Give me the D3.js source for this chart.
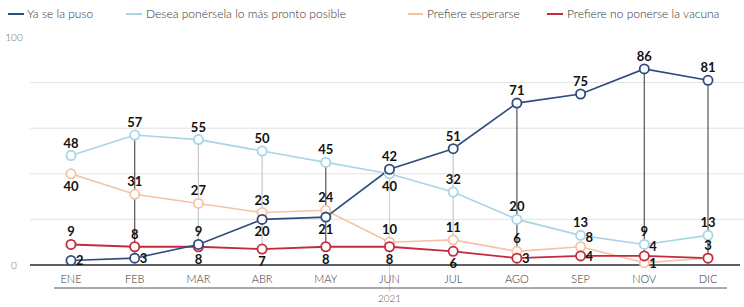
<!DOCTYPE html>
<html><head><meta charset="utf-8">
<script src="https://cdn.jsdelivr.net/npm/d3@7"></script>
<style>
body{margin:0;background:#fff;}
svg{display:block;}
.thin{font-family:Lato,"Open Sans",sans-serif;font-weight:300;}
.lab{font-family:Lato,"Open Sans",sans-serif;font-weight:700;font-size:13px;fill:#111;}
</style></head>
<body><svg id="c" width="744" height="307"></svg>
<script>
const categories = ["ENE","FEB","MAR","ABR","MAY","JUN","JUL","AGO","SEP","NOV","DIC"];
const yaSeLaPuso = [2,3,9,20,21,42,51,71,75,86,81];
const deseaPonersela = [48,57,55,50,45,40,32,20,13,9,13];
const prefiereEsperarse = [40,31,27,23,24,10,11,6,8,1,3];
const prefiereNoPonerse = [9,8,8,7,8,8,6,3,4,4,3];
const seriesNames = ["Ya se la puso","Desea ponérsela lo más pronto posible","Prefiere esperarse","Prefiere no ponerse la vacuna"];
const yTickLabels = [0,100];
const gridValues = [20,40,60,80];
const yearLabel = "2021";
// label placement per point: t=top, b=bottom, r=right, tr=top-right, br=bottom-right, n=none
const yaPos = ["r","r","t","b","b","t","t","t","t","t","t"];
const deseaPos = ["t","t","t","t","t","b","t","t","t","t","t"];
const esperarPos = ["b","t","t","t","t","t","t","t","tr","br","n"];
const noPos = ["t","t","b","b","b","b","b","r","r","tr","t"];
const dropDark = ["FEB","MAY","AGO","NOV","DIC"];
const dropLight = ["MAR","ABR","JUL"];
const dropLong = ["JUN"];

const colors = ["#2e4c7f","#a9d5e6","#f5c2a4","#c42a3e"];
const svg = d3.select("#c");
const x = d3.scalePoint().domain(categories).range([71,708]);
const y = d3.scaleLinear().domain([0,100]).range([265,37]);

// grid
svg.selectAll(".grid").data(gridValues).join("line")
  .attr("x1",30).attr("x2",744).attr("y1",d=>y(d)).attr("y2",d=>y(d))
  .attr("stroke","#e3e3e3").attr("stroke-width",1);

// y labels
svg.selectAll(".yl").data(yTickLabels).join("text").attr("class","thin")
  .attr("x",14).attr("y",d=>y(d)+4).attr("text-anchor","middle")
  .attr("font-size",10).attr("fill","#666").text(d=>d);

const all = [deseaPonersela,prefiereEsperarse,prefiereNoPonerse,yaSeLaPuso];
function maxAt(i){return d3.max(all,s=>s[i]);}
function minAt(i){return d3.min(all,s=>s[i]);}

// drop lines
dropLight.forEach(c=>{const i=categories.indexOf(c);
  svg.append("line").attr("x1",x(c)).attr("x2",x(c)).attr("y1",y(maxAt(i))).attr("y2",y(minAt(i)))
   .attr("stroke","#c8c8c8").attr("stroke-width",1.2);});
dropLong.forEach(c=>{const i=categories.indexOf(c);
  svg.append("line").attr("x1",x(c)).attr("x2",x(c)).attr("y1",y(maxAt(i))).attr("y2",292)
   .attr("stroke","#d5d5d5").attr("stroke-width",1.2);});
dropDark.forEach(c=>{const i=categories.indexOf(c);
  svg.append("line").attr("x1",x(c)).attr("x2",x(c)).attr("y1",y(maxAt(i))).attr("y2",y(minAt(i)))
   .attr("stroke","#555").attr("stroke-width",1.2);});

// baseline
svg.append("line").attr("x1",30).attr("x2",740).attr("y1",y(0)).attr("y2",y(0))
  .attr("stroke","#2a2a2a").attr("stroke-width",1.5);

// x labels
svg.selectAll(".xl").data(categories).join("text").attr("class","thin")
  .attr("x",d=>x(d)).attr("y",283).attr("text-anchor","middle")
  .attr("font-size",11).attr("fill","#333").text(d=>d);
svg.append("line").attr("x1",54).attr("x2",727).attr("y1",288).attr("y2",288)
  .attr("stroke","#555").attr("stroke-width",1);
svg.append("text").attr("class","thin").attr("x",x("JUN")).attr("y",302)
  .attr("text-anchor","middle").attr("font-size",10).attr("fill","#555").text(yearLabel);

// series
const order = [
  {v:deseaPonersela,c:colors[1],p:deseaPos,w:1.6},
  {v:prefiereEsperarse,c:colors[2],p:esperarPos,w:1.6},
  {v:prefiereNoPonerse,c:colors[3],p:noPos,w:1.8},
  {v:yaSeLaPuso,c:colors[0],p:yaPos,w:1.6}
];
const line = d3.line().x((d,i)=>x(categories[i])).y(d=>y(d));
order.forEach(s=>{
  svg.append("path").datum(s.v).attr("d",line).attr("fill","none")
    .attr("stroke",s.c).attr("stroke-width",s.w);
});
order.forEach(s=>{
  svg.append("g").selectAll("circle").data(s.v).join("circle")
    .attr("cx",(d,i)=>x(categories[i])).attr("cy",d=>y(d)).attr("r",4.6)
    .attr("fill","#fff").attr("stroke",s.c).attr("stroke-width",1.8);
});
const isRight = p => p==="r"||p==="tr"||p==="br";
order.forEach(s=>{
  svg.append("g").selectAll("text").data(s.v.map((d,i)=>({d,i,p:s.p[i]})).filter(o=>o.p!=="n"))
    .join("text").attr("class","lab")
    .attr("x",o=>{const cx=x(categories[o.i]); return isRight(o.p)?cx+5:cx;})
    .attr("y",o=>{const cy=y(o.d);
      return o.p==="t"?cy-8:o.p==="b"?cy+17:o.p==="tr"?cy-5:o.p==="br"?cy+5:cy+5;})
    .attr("text-anchor",o=>isRight(o.p)?"start":"middle")
    .text(o=>o.d);
});

// legend
const legX = [[8,24,27],[126,142,146],[408,423,427],[547,563,567]];
const legColors = [colors[0],colors[1],colors[2],colors[3]];
seriesNames.forEach((n,k)=>{
  svg.append("line").attr("x1",legX[k][0]).attr("x2",legX[k][1]).attr("y1",14).attr("y2",14)
    .attr("stroke",legColors[k]).attr("stroke-width",2);
  svg.append("text").attr("class","thin").attr("x",legX[k][2]).attr("y",18)
    .attr("font-size",12).attr("fill","#333").text(n);
});
</script></body></html>
